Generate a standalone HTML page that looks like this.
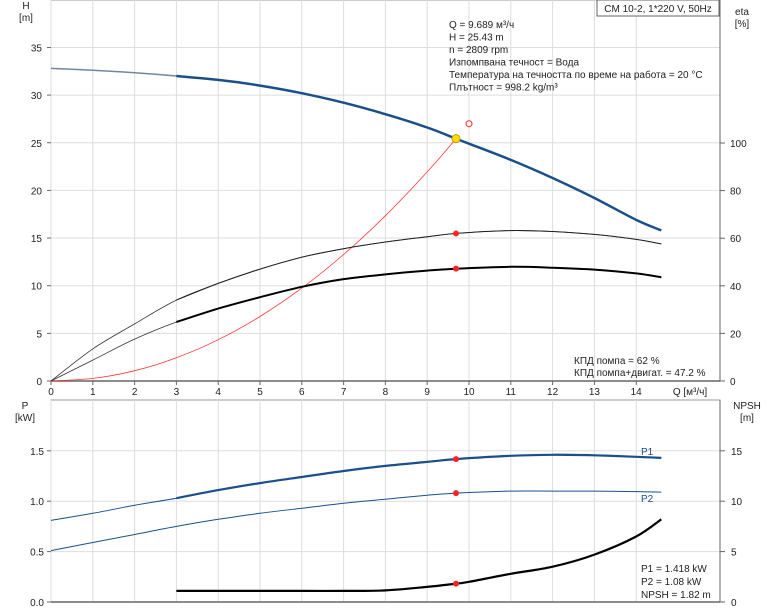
<!DOCTYPE html>
<html><head><meta charset="utf-8"><style>
body{margin:0;background:#fff;}
svg{display:block;font-family:"Liberation Sans",sans-serif;}
text{font-size:10px;fill:#222;}
</style></head><body>
<svg id="c" width="774" height="611"></svg>
<script>
const qTicks=[0,1,2,3,4,5,6,7,8,9,10,11,12,13,14];
const hTicks=[0,5,10,15,20,25,30,35];
const etaTicks=[0,20,40,60,80,100];
const pTicks=[0,0.5,1.0,1.5];
const npshTicks=[0,5,10,15];
const hQ=[0,1,2,3,4,5,6,7,8,9,9.689,10,11,12,13,14,14.6];
const hVal=[32.8,32.6,32.35,32,31.6,31,30.2,29.2,28,26.6,25.43,24.9,23.2,21.3,19.2,16.9,15.8];
const etaQ=[0,1,2,3,4,5,6,7,8,9,9.689,11,12,13,14,14.6];
const etaPump=[0,13.5,24,34,41,47,52,55.6,58.4,60.6,62,63.2,62.8,61.6,59.5,57.6];
const etaTot=[0,8.8,17.6,24.8,30.4,35.2,39.6,42.8,44.8,46.4,47.2,48,47.6,46.8,45.2,43.6];
const sysQ=[0,1,2,3,4,5,6,7,8,9,9.689];
const sysH=[0,0.27,1.08,2.44,4.33,6.77,9.75,13.27,17.34,21.94,25.43];
const pQ=[0,1,2,3,4,5,6,7,8,9,9.689,11,12,13,14,14.6];
const p1=[0.81,0.88,0.96,1.03,1.11,1.18,1.24,1.3,1.35,1.39,1.418,1.45,1.46,1.455,1.44,1.43];
const p2=[0.51,0.59,0.67,0.75,0.82,0.88,0.93,0.98,1.02,1.06,1.08,1.1,1.1,1.1,1.095,1.09];
const nQ=[3,4,5,6,7,8,9,9.689,10,11,12,13,14,14.6];
const npsh=[1.1,1.1,1.1,1.1,1.1,1.15,1.5,1.82,2.0,2.8,3.5,4.7,6.5,8.2];
const op={q:9.689,h:25.43,p1:1.418,p2:1.08,npsh:1.82,etaP:62,etaT:47.2};

const S=document.getElementById('c');const NS='http://www.w3.org/2000/svg';
function el(t,a,txt){const e=document.createElementNS(NS,t);for(const k in a)e.setAttribute(k,a[k]);if(txt!==undefined)e.textContent=txt;S.appendChild(e);return e;}
const X=q=>51+q*41.8;
const YH=h=>381-h*9.53;
const YE=e=>381-e*2.38;
const YP=p=>602-p*100.8;
const YN=n=>602-n*10.08;
const L=51,R=720;
let f=el('rect',{x:L,y:0,width:R-L,height:381,fill:'none',stroke:'#999'});

f=el('rect',{x:L,y:400,width:R-L,height:202,fill:'none',stroke:'#999'});

qTicks.forEach(q=>{
 let g=el('line',{x1:X(q),x2:X(q),y1:0,y2:381,stroke:'#ddd'});
 g=el('line',{x1:X(q),x2:X(q),y1:400,y2:602,stroke:'#ddd'});
 let t=el('text',{x:X(q),y:395,'text-anchor':'middle'},q);
 el('line',{x1:X(q),x2:X(q),y1:381,y2:385,stroke:'#666'});
});
hTicks.forEach(h=>{
 if(h>0){let g=el('line',{x1:L,x2:R,y1:YH(h),y2:YH(h),stroke:'#ddd'});}
 let t=el('text',{x:42,y:YH(h)+4,'text-anchor':'end'},h);
 el('line',{x1:L-4,x2:L,y1:YH(h),y2:YH(h),stroke:'#666'});
});
etaTicks.forEach(e=>{
 let t=el('text',{x:730,y:YE(e)+4},e);
 el('line',{x1:R,x2:R+5,y1:YE(e),y2:YE(e),stroke:'#666'});
});
pTicks.forEach(p=>{
 if(p>0){let g=el('line',{x1:L,x2:R,y1:YP(p),y2:YP(p),stroke:'#ddd'});}
 let t=el('text',{x:44,y:YP(p)+4,'text-anchor':'end'},p.toFixed(1));
 el('line',{x1:L-4,x2:L,y1:YP(p),y2:YP(p),stroke:'#666'});
});
npshTicks.forEach(n=>{
 let t=el('text',{x:731,y:YN(n)+4},n);
 el('line',{x1:R,x2:R+5,y1:YN(n),y2:YN(n),stroke:'#666'});
});
el('line',{x1:R,x2:R,y1:0,y2:381,stroke:'#666'});el('line',{x1:R,x2:R,y1:400,y2:602,stroke:'#666'});
el('line',{x1:L,x2:R,y1:381,y2:381,stroke:'#666',"stroke-width":1.5});el('line',{x1:L,x2:R,y1:602,y2:602,stroke:'#666',"stroke-width":1.5});
function path(xs,ys,fx,fy,st,w,name,from){
 const pts=[];xs.forEach((q,i)=>{if(from!==undefined&&q<from)return;pts.push([fx(q),fy(ys[i])]);});
 let d='M'+pts[0][0].toFixed(1)+','+pts[0][1].toFixed(1);
 for(let i=0;i<pts.length-1;i++){
  const p0=pts[Math.max(0,i-1)],p1_=pts[i],p2_=pts[i+1],p3=pts[Math.min(pts.length-1,i+2)];
  const c1=[p1_[0]+(p2_[0]-p0[0])/6,p1_[1]+(p2_[1]-p0[1])/6];
  const c2=[p2_[0]-(p3[0]-p1_[0])/6,p2_[1]-(p3[1]-p1_[1])/6];
  d+='C'+c1.map(v=>v.toFixed(1)).join(',')+' '+c2.map(v=>v.toFixed(1)).join(',')+' '+p2_[0].toFixed(1)+','+p2_[1].toFixed(1);
 }
 const p=el('path',{d,fill:'none',stroke:st,'stroke-width':w,'stroke-linejoin':'round'});
 return p;
}
path(sysQ,sysH,X,YH,'#f33',0.8,'system-curve');
path(hQ,hVal,X,YH,'#6f87a3',1.5,'head-curve-thin');
path(hQ,hVal,X,YH,'#1a4f8a',2.5,'head-curve',3);
path(etaQ,etaPump,X,YE,'#333',0.8,'eta-pump-thin');
path(etaQ,etaPump,X,YE,'#222',1,'eta-pump-curve',3);
path(etaQ,etaTot,X,YE,'#333',0.8,'eta-total-thin');
path(etaQ,etaTot,X,YE,'#000',2,'eta-total-curve',3);
path(pQ,p1,X,YP,'#1a4f8a',1,'p1-thin');
path(pQ,p1,X,YP,'#1a4f8a',2.2,'p1-curve',3);
path(pQ,p2,X,YP,'#1a4f8a',1,'p2-curve');
path(nQ,npsh,X,YN,'#000',2.2,'npsh-curve');
function dot(cx,cy,name,fill,r,stroke){const c=el('circle',{cx,cy,r,fill,stroke:stroke||'none'});}
dot(X(op.q),YE(op.etaP),'eta-pump-point','#f22',3);
dot(X(op.q),YE(op.etaT),'eta-total-point','#f22',3);
dot(X(op.q),YP(op.p1),'p1-point','#f22',3);
dot(X(op.q),YP(op.p2),'p2-point','#f22',3);
dot(X(op.q),YN(op.npsh),'npsh-point','#f22',3);
dot(X(10),YH(27),'requested-point','#fff',3,'#f22');
dot(X(op.q),YH(op.h),'duty-point','#ffdd00',4,'#c90');
function txt(x,y,s,name,anchor){const t=el('text',{x,y,'text-anchor':anchor||'start'},s);}
txt(26,9,'H','h-axis-title','middle');txt(26,21,'[m]','h-axis-unit','middle');
txt(742,15,'eta','eta-axis-title','middle');txt(742,27,'[%]','eta-axis-unit','middle');
txt(25,409,'P','p-axis-title','middle');txt(25,421,'[kW]','p-axis-unit','middle');
txt(747,409,'NPSH','npsh-axis-title','middle');txt(747,421,'[m]','npsh-axis-unit','middle');
txt(690,395,'Q [м³/ч]','x-axis-title','middle');
const b=el('rect',{x:597,y:0,width:122,height:16,fill:'#fff',stroke:'#666'});
txt(658,12,'CM 10-2, 1*220 V, 50Hz','chart-title','middle');
['Q = 9.689 м³/ч','H = 25.43 m','n = 2809 rpm','Изпомпвана течност = Вода','Температура на течността по време на работа = 20 °C','Плътност = 998.2 kg/m³'].forEach((s,i)=>txt(449,28+i*12.5,s,'info-line'));
txt(574,364,'КПД помпа = 62 %','eta-pump-info');
txt(574,376,'КПД помпа+двигат. = 47.2 %','eta-total-info');
txt(641,572,'P1 = 1.418 kW','p1-info');txt(641,585,'P2 = 1.08 kW','p2-info');txt(641,598,'NPSH = 1.82 m','npsh-info');
const l1=el('text',{x:641,y:455,style:'fill:#1a4f8a'},'P1');
const l2=el('text',{x:641,y:502,style:'fill:#1a4f8a'},'P2');
</script>
</body></html>
